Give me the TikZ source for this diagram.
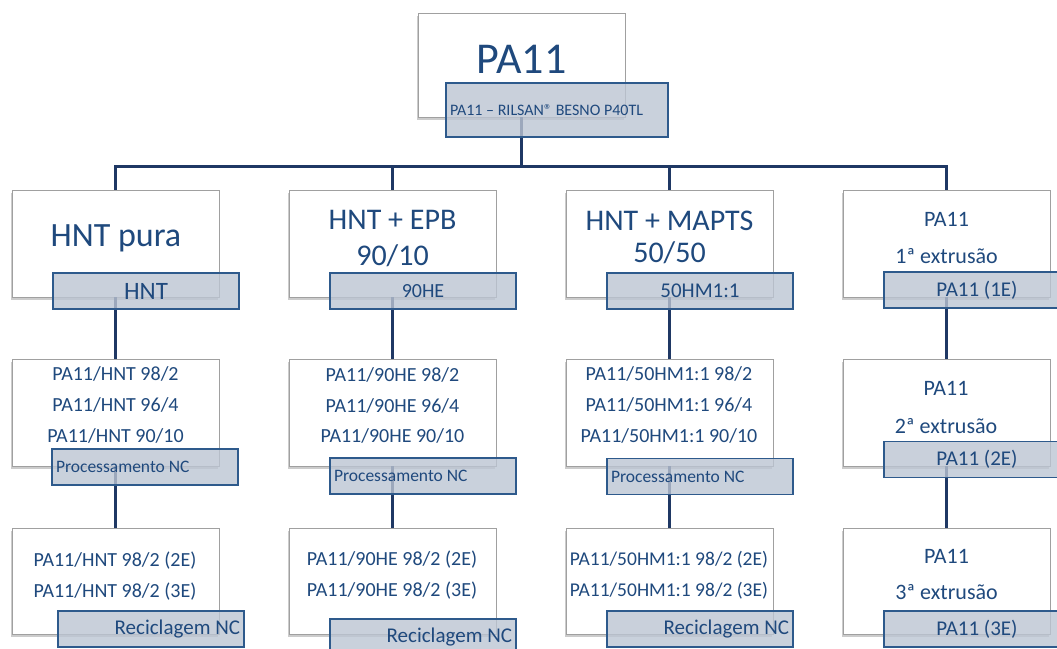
\documentclass[tikz,border=0pt]{standalone}
\usepackage{fontspec}
\setmainfont{Carlito}
\usetikzlibrary{shadows}

\definecolor{azul}{HTML}{1F497D}
\definecolor{linha}{HTML}{1F3864}
\definecolor{rotfill}{HTML}{BCC5D3}
\definecolor{rotborda}{HTML}{2E5A8C}
\definecolor{cinza}{HTML}{A0A0A0}

\tikzset{
  caixa/.style={rectangle, draw=cinza, line width=0.8pt, fill=white, minimum width=207pt, minimum height=107pt,
    drop shadow={shadow xshift=-1.5pt, shadow yshift=-2.5pt, opacity=0.4}},
  texto/.style={text=azul, align=center, anchor=base, inner sep=0pt},
  rotulo/.style={rectangle, draw=rotborda, line width=1.3pt, fill=rotfill, fill opacity=0.8, draw opacity=1, text opacity=1,
    minimum width=186pt, minimum height=36pt, inner xsep=4pt, text width=178pt, text=azul},
  ligacao/.style={draw=linha, line width=2.8pt}
}

\begin{document}
\begin{tikzpicture}[x=1pt, y=-1pt]
    \useasboundingbox (0,0) rectangle (1057,648);
    % Caixas
    \node[caixa, minimum height=104pt] (topo) at (521.5,65) {};
    \node[caixa] (b11) at (115.5,243.5) {};
    \node[caixa] (b12) at (392.5,243.5) {};
    \node[caixa] (b13) at (669.5,243.5) {};
    \node[caixa] (b14) at (946.5,243.5) {};
    \node[caixa] (b21) at (115.5,412.5) {};
    \node[caixa] (b22) at (392.5,412.5) {};
    \node[caixa] (b23) at (669.5,412.5) {};
    \node[caixa] (b24) at (946.5,412.5) {};
    \node[caixa, minimum height=106pt] (b31) at (115.5,581) {};
    \node[caixa, minimum height=106pt] (b32) at (392.5,581) {};
    \node[caixa, minimum height=106pt] (b33) at (669.5,581) {};
    \node[caixa, minimum height=106pt] (b34) at (946.5,581) {};

    % Textos (base = ultima linha)
    \node[texto, font=\fontsize{44}{44}\selectfont] (tTopo) at (521.5,73.3) {PA11};
    \node[texto, font=\fontsize{34}{34}\selectfont] (t11) at (116,246.7) {HNT pura};
    \node[texto, font=\fontsize{30}{36}\selectfont] (t12) at (392.5,265) {HNT + EPB\\90/10};
    \node[texto, font=\fontsize{30}{32.5}\selectfont] (t13) at (669.5,262.7) {HNT + MAPTS\\50/50};
    \node[texto, font=\fontsize{22}{37}\selectfont] (t14) at (946.5,263) {PA11\\1ª extrusão};
    \node[texto, font=\fontsize{20}{31.3}\selectfont] (t21) at (115.5,442.7) {PA11/HNT 98/2\\PA11/HNT 96/4\\PA11/HNT 90/10};
    \node[texto, font=\fontsize{20}{30.5}\selectfont] (t22) at (392.5,442.7) {PA11/90HE 98/2\\PA11/90HE 96/4\\PA11/90HE 90/10};
    \node[texto, font=\fontsize{20}{30.8}\selectfont] (t23) at (669,442.3) {PA11/50HM1:1 98/2\\PA11/50HM1:1 96/4\\PA11/50HM1:1 90/10};
    \node[texto, font=\fontsize{22}{37.6}\selectfont] (t24) at (946,433.3) {PA11\\2ª extrusão};
    \node[texto, font=\fontsize{20}{30.5}\selectfont] (t31) at (115,597.3) {PA11/HNT 98/2 (2E)\\PA11/HNT 98/2 (3E)};
    \node[texto, font=\fontsize{20}{31.7}\selectfont] (t32) at (392,596.7) {PA11/90HE 98/2 (2E)\\PA11/90HE 98/2 (3E)};
    \node[texto, font=\fontsize{19.5}{31.7}\selectfont] (t33) at (669,596.7) {PA11/50HM1:1 98/2 (2E)\\PA11/50HM1:1 98/2 (3E)};
    \node[texto, font=\fontsize{22}{36}\selectfont] (t34) at (946.5,599.3) {PA11\\3ª extrusão};

    % Ligacoes
    \foreach \c in {b11,b12,b13,b14}
        \draw[ligacao] (topo.south) -- ++(0,49) -| (\c.north);
    \draw[ligacao] (b11.south) -- (b21.north);
    \draw[ligacao] (b21.south) -- (b31.north);
    \draw[ligacao] (b12.south) -- (b22.north);
    \draw[ligacao] (b22.south) -- (b32.north);
    \draw[ligacao] (b13.south) -- (b23.north);
    \draw[ligacao] (b23.south) -- (b33.north);
    \draw[ligacao] (b14.south) -- (b24.north);
    \draw[ligacao] (b24.south) -- (b34.north);

    % Rotulos
    \node[rotulo, minimum width=222pt, minimum height=54pt, text width=214pt, align=flush left,
        font=\fontsize{16}{18}\selectfont] (rTopo) at (557,110) {PA11 – RILSAN® BESNO P40TL};
    \node[rotulo, align=flush center, font=\fontsize{25}{28}\selectfont] (r11) at (146,291) {HNT};
    \node[rotulo, align=flush center, font=\fontsize{20}{24}\selectfont] (r12) at (423,291) {90HE};
    \node[rotulo, align=flush center, font=\fontsize{21}{24}\selectfont] (r13) at (700,291) {50HM1:1};
    \node[rotulo, align=flush center, font=\fontsize{21}{24}\selectfont] (r14) at (977,290) {PA11 (1E)};
    \node[rotulo, align=flush left, font=\fontsize{17.5}{20}\selectfont] (r21) at (145,467) {Processamento NC};
    \node[rotulo, align=flush left, font=\fontsize{17.5}{20}\selectfont] (r22) at (423,476) {Processamento NC};
    \node[rotulo, align=flush left, font=\fontsize{17.5}{20}\selectfont] (r23) at (700,476.5) {Processamento NC};
    \node[rotulo, align=flush center, font=\fontsize{21}{24}\selectfont] (r24) at (977,459.5) {PA11 (2E)};
    \node[rotulo, align=flush right, font=\fontsize{21}{24}\selectfont] (r31) at (151,629) {Reciclagem NC};
    \node[rotulo, align=flush right, font=\fontsize{21}{24}\selectfont] (r32) at (423,637) {Reciclagem NC};
    \node[rotulo, align=flush right, font=\fontsize{21}{24}\selectfont] (r33) at (700,629) {Reciclagem NC};
    \node[rotulo, align=flush center, font=\fontsize{21}{24}\selectfont] (r34) at (977,629) {PA11 (3E)};
\end{tikzpicture}
\end{document}
